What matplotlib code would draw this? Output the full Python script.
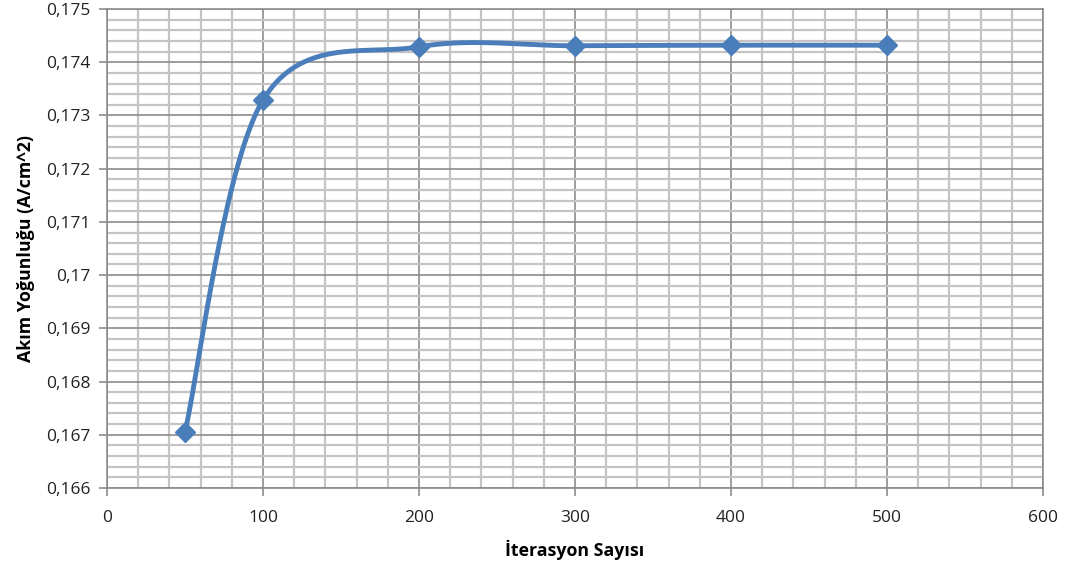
import numpy as np
import matplotlib
matplotlib.use("Agg")
import matplotlib.pyplot as plt
from matplotlib.ticker import MultipleLocator, FuncFormatter

iterations = [50, 100, 200, 300, 400, 500]
current_density = [0.16705, 0.17329, 0.17429, 0.17431, 0.17432, 0.17432]

x_label = "İterasyon Sayısı"
y_label = "Akım Yoğunluğu (A/cm^2)"


def smooth_curve(xs, ys, n=60):
    # Catmull-Rom style cubic Bezier smoothing through every point
    xs = np.asarray(xs, float)
    ys = np.asarray(ys, float)
    pts = np.column_stack([xs, ys])
    out = []
    for i in range(len(pts) - 1):
        p0 = pts[i - 1] if i > 0 else pts[i]
        p1 = pts[i]
        p2 = pts[i + 1]
        p3 = pts[i + 2] if i + 2 < len(pts) else pts[i + 1]
        c1 = p1 + (p2 - p0) / 6.0
        c2 = p2 - (p3 - p1) / 6.0
        t = np.linspace(0, 1, n)[:, None]
        seg = ((1 - t) ** 3) * p1 + 3 * ((1 - t) ** 2) * t * c1 + 3 * (1 - t) * t ** 2 * c2 + t ** 3 * p2
        out.append(seg if i == 0 else seg[1:])
    seg = np.vstack(out)
    return seg[:, 0], seg[:, 1]


plt.rcParams["font.family"] = ["Open Sans", "DejaVu Sans"]

fig = plt.figure(figsize=(10.7, 5.64), dpi=100)
ax = fig.add_axes([0.1, 0.1348, 0.8748, 0.8492])

ax.set_xlim(0, 600)
ax.set_ylim(0.166, 0.175)

ax.xaxis.set_major_locator(MultipleLocator(100))
ax.xaxis.set_minor_locator(MultipleLocator(20))
ax.yaxis.set_major_locator(MultipleLocator(0.001))
ax.yaxis.set_minor_locator(MultipleLocator(0.0002))

ax.grid(which="minor", color="#c4c4c4", linewidth=1.6)
ax.grid(which="major", color="#8c8c8c", linewidth=1.2)
ax.set_axisbelow(True)

def fmt_y(v, pos):
    s = f"{v:.3f}".rstrip("0").rstrip(".")
    return s.replace(".", ",")

ax.yaxis.set_major_formatter(FuncFormatter(fmt_y))
ax.xaxis.set_major_formatter(FuncFormatter(lambda v, p: f"{int(round(v))}"))

for side in ["left", "bottom", "top", "right"]:
    ax.spines[side].set_color("#8c8c8c")
    ax.spines[side].set_linewidth(1.2)

ax.tick_params(which="major", direction="out", length=6, width=1.2, color="#8c8c8c",
               labelsize=12.5, labelcolor="#222222", pad=6)
ax.tick_params(which="minor", length=0)
ax.tick_params(axis="x", pad=10)

sx, sy = smooth_curve(iterations, current_density)
ax.plot(sx, sy, color="#4a7ebb", linewidth=3.5, solid_capstyle="round", zorder=3)
ax.plot(iterations, current_density, linestyle="none", marker="D", markersize=10,
        color="#4a7ebb", zorder=4)

ax.set_xlabel(x_label, fontsize=12.8, fontweight="bold", labelpad=10)
ax.set_ylabel(y_label, fontsize=12.8, fontweight="bold", labelpad=8)

fig.savefig("out.png", dpi=100)
